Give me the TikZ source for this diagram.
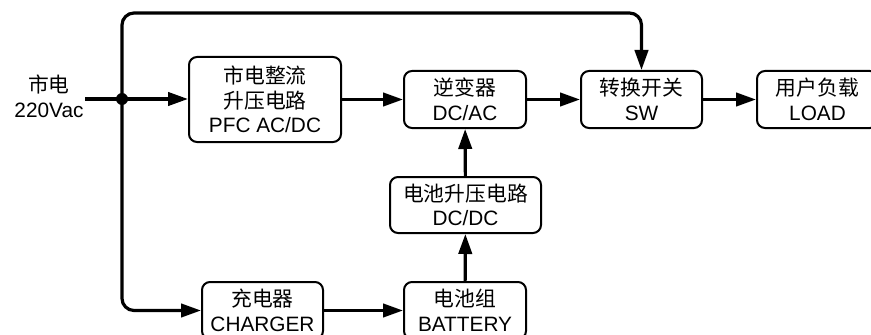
\documentclass[tikz,border=0pt]{standalone}
\usepackage{fontspec}
\setmainfont{Liberation Sans}
\newfontfamily\cjk{Noto Sans CJK SC}
\usepackage{tikz}
\usetikzlibrary{arrows.meta}
\tikzset{
  node-box/.style={draw,line width=1.5pt,rounded corners=6pt,inner sep=0pt,
    minimum width=91.5pt,minimum height=42.75pt,align=center},
  node-text/.style={inner sep=1pt,align=center},
  wire/.style={line width=2.4pt},
  arrow/.style={-{Triangle[length=15pt,width=10pt]},line width=2.4pt},
  joint/.style={circle,fill,inner sep=0pt,minimum size=9pt},
}

\begin{document}
\begin{tikzpicture}[x=0.75pt,y=-0.75pt,font=\fontsize{15.6}{18.5}\selectfont]
  \clip (0,0) rectangle (871,335);
  % 输入
  \node[node-text] (src) at (49,96) {{\cjk 市电}\\220Vac};
  \coordinate (j) at (122,99);
  \coordinate (top) at (0,13);
  % 功率通路
  \node[node-box,minimum width=114pt,minimum height=63.75pt] (pfc) at (265,99.5)
    {{\cjk 市电整流}\\{\cjk 升压电路}\\PFC AC/DC};
  \node[node-box] (inv) at (465,99.5) {{\cjk 逆变器}\\DC/AC};
  \node[node-box,minimum width=90.75pt] (sw) at (641.5,99.5) {{\cjk 转换开关}\\SW};
  \node[node-box,minimum width=90.75pt] (load) at (817.5,99.5) {{\cjk 用户负载}\\LOAD};
  % 电池通路
  \node[node-box,minimum width=113.25pt,minimum height=42pt] (dcdc) at (465.5,205)
    {{\cjk 电池升压电路}\\DC/DC};
  \node[node-box] (bat) at (465,310.5) {{\cjk 电池组}\\BATTERY};
  \node[node-box,minimum width=90.75pt] (chg) at (262.5,310.5) {{\cjk 充电器}\\CHARGER};
  % 连线
  \draw[wire] (src.east |- j) -- (j);
  \draw[arrow] (j) -- (pfc.west |- j);
  \draw[arrow] (pfc.east |- inv) -- (inv.west);
  \draw[arrow] (inv) -- (sw);
  \draw[arrow] (sw) -- (load);
  \draw[arrow,rounded corners=9pt] (j) |- (top -| sw.north) -- (sw.north);
  \draw[arrow,rounded corners=9pt] (j) |- (chg.west);
  \draw[arrow] (chg) -- (bat);
  \draw[arrow] (bat) -- (dcdc);
  \draw[arrow] (dcdc) -- (inv);
  \node[joint] at (j) {};
\end{tikzpicture}
\end{document}
